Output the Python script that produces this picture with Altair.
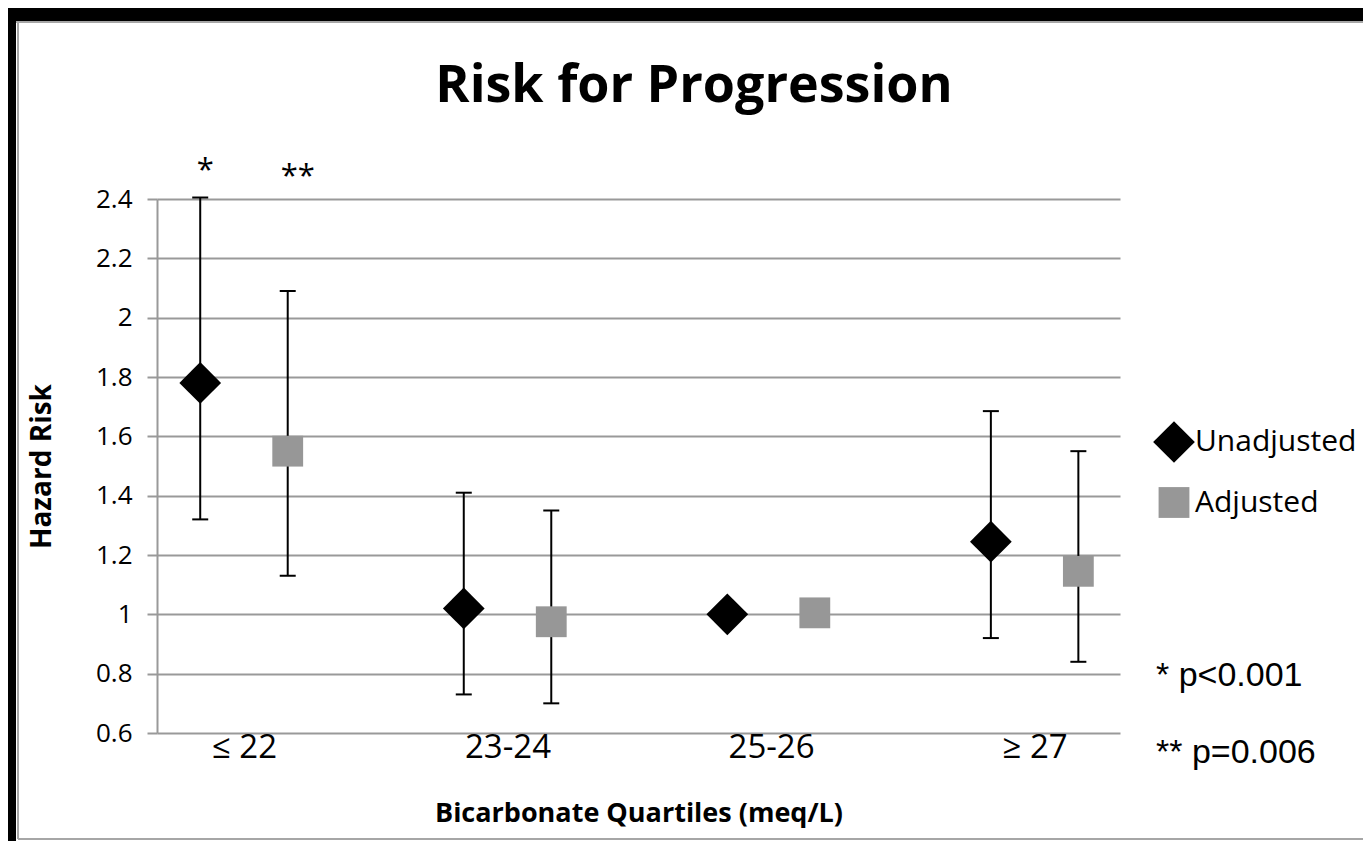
import json
import altair as alt
import pandas as pd

# ---------------- data ----------------
categories = ["≤ 22", "23-24", "25-26", "≥ 27"]
series_names = ["Unadjusted", "Adjusted"]
unadjusted_hr = [1.78, 1.02, 1.00, 1.245]
unadjusted_lo = [1.32, 0.73, None, 0.92]
unadjusted_hi = [2.405, 1.41, None, 1.685]
adjusted_hr = [1.55, 0.975, 1.005, 1.145]
adjusted_lo = [1.13, 0.70, None, 0.84]
adjusted_hi = [2.09, 1.35, None, 1.55]
y_ticks = [0.6, 0.8, 1.0, 1.2, 1.4, 1.6, 1.8, 2.0, 2.2, 2.4]
sig_marks = ["*", "**"]           # significance marks over the first category
p_notes = ["* p<0.001", "** p=0.006"]
chart_title = "Risk for Progression"
x_title = "Bicarbonate Quartiles (meq/L)"
y_title = "Hazard Risk"

# ---------------- table ----------------
series_shift = {"Unadjusted": -0.166, "Adjusted": 0.166}
rows = []
for i, cat in enumerate(categories):
    for name, hr, lo, hi in (
        ("Unadjusted", unadjusted_hr[i], unadjusted_lo[i], unadjusted_hi[i]),
        ("Adjusted", adjusted_hr[i], adjusted_lo[i], adjusted_hi[i]),
    ):
        rows.append(dict(category=cat, idx=i, series=name,
                         pos=i + series_shift[name], hr=hr, lo=lo, hi=hi))
df = pd.DataFrame(rows)
df_err = df.dropna(subset=["lo", "hi"])
df_sig = df[df["idx"] == 0].copy()
df_sig["mark"] = sig_marks

W, H = 963, 534
FONT = "Open Sans"
GRAY = "#999999"

x_scale = alt.Scale(domain=[-0.330, 3.324], nice=False, zero=False)
y_scale = alt.Scale(domain=[0.6, 2.4], nice=False, zero=False)

label_expr = json.dumps(categories) + "[datum.value]"
x_axis = alt.Axis(values=list(range(len(categories))), labelExpr=label_expr,
                  domain=False, ticks=False, grid=False,
                  labelFont=FONT, labelFontSize=33, labelColor="black",
                  labelPadding=-2, title=x_title, titleFont=FONT,
                  titleFontSize=27, titleFontWeight="bold", titleColor="black",
                  titleX=W / 2, titleY=80, titleAlign="center",
                  titleBaseline="middle", titleAngle=0)
y_axis = alt.Axis(values=y_ticks, format=".1~f", domain=True,
                  domainColor=GRAY, domainWidth=2, ticks=True, tickSize=10,
                  tickColor=GRAY, tickWidth=2, grid=True, gridColor=GRAY,
                  gridWidth=2, labelFont=FONT, labelFontSize=26,
                  labelColor="black", labelPadding=15, title=y_title,
                  titleFont=FONT, titleFontSize=28, titleFontWeight="bold",
                  titleColor="black", titleX=-115, titleY=H / 2,
                  titleAngle=270, titleAlign="center", titleBaseline="middle")

legend = alt.Legend(title=None, orient="none", legendX=996, legendY=222,
                    symbolSize=576, symbolStrokeWidth=0, labelFont=FONT,
                    labelFontSize=30, labelColor="black", labelOffset=0,
                    labelLimit=0, rowPadding=24, symbolOpacity=1)

base = alt.Chart(df)

points = base.mark_point(filled=True, opacity=1, strokeWidth=0).encode(
    x=alt.X("pos:Q", scale=x_scale, axis=x_axis, title=x_title),
    y=alt.Y("hr:Q", scale=y_scale, axis=y_axis, title=y_title),
    shape=alt.Shape("series:N",
                    scale=alt.Scale(domain=series_names, range=["diamond", "square"]),
                    legend=legend),
    color=alt.Color("series:N",
                    scale=alt.Scale(domain=series_names, range=["black", "#979797"]),
                    legend=legend),
    size=alt.Size("series:N",
                  scale=alt.Scale(domain=series_names, range=[1740, 950]),
                  legend=None),
)

err_rule = alt.Chart(df_err).mark_rule(color="black", strokeWidth=2).encode(
    x=alt.X("pos:Q", scale=x_scale, title=x_title),
    y=alt.Y("lo:Q", scale=y_scale, title=y_title),
    y2="hi:Q",
)
cap_lo = alt.Chart(df_err).mark_tick(color="black", orient="horizontal",
                                     size=16, thickness=2, opacity=1).encode(
    x=alt.X("pos:Q", scale=x_scale, title=x_title),
    y=alt.Y("lo:Q", scale=y_scale, title=y_title),
)
cap_hi = alt.Chart(df_err).mark_tick(color="black", orient="horizontal",
                                     size=16, thickness=2, opacity=1).encode(
    x=alt.X("pos:Q", scale=x_scale, title=x_title),
    y=alt.Y("hi:Q", scale=y_scale, title=y_title),
)

sig1 = alt.Chart(df_sig[df_sig["series"] == "Unadjusted"]).mark_text(
    font=FONT, fontSize=31, color="black", align="center",
    baseline="alphabetic", dx=5).encode(
    x=alt.X("pos:Q", scale=x_scale, title=x_title),
    y=alt.value(-19), text="mark:N")
sig2 = alt.Chart(df_sig[df_sig["series"] == "Adjusted"]).mark_text(
    font=FONT, fontSize=31, color="black", align="center",
    baseline="alphabetic", dx=10).encode(
    x=alt.X("pos:Q", scale=x_scale, title=x_title),
    y=alt.value(-13), text="mark:N")

notes_df = pd.DataFrame({"note": p_notes, "k": [0, 1]})
note1 = alt.Chart(notes_df[notes_df["k"] == 0]).mark_text(
    font="Liberation Sans", fontSize=34, color="black", align="left",
    baseline="alphabetic").encode(x=alt.value(999), y=alt.value(487), text="note:N")
note2 = alt.Chart(notes_df[notes_df["k"] == 1]).mark_text(
    font="Liberation Sans", fontSize=34, color="black", align="left",
    baseline="alphabetic").encode(x=alt.value(999), y=alt.value(564), text="note:N")

title_df = pd.DataFrame({"t": [chart_title]})
title = alt.Chart(title_df).mark_text(
    font=FONT, fontSize=52, fontWeight="bold", color="black", align="center",
    baseline="alphabetic").encode(x=alt.value(537), y=alt.value(-97), text="t:N")

one = pd.DataFrame({"a": [0]})
frame_top = alt.Chart(one).mark_rule(color="black", strokeWidth=13).encode(
    x=alt.value(-149), x2=alt.value(1206), y=alt.value(-184.5))
frame_left = alt.Chart(one).mark_rule(color="black", strokeWidth=8).encode(
    x=alt.value(-145), y=alt.value(-191), y2=alt.value(642))
line_top = alt.Chart(one).mark_rule(color="#a6a6a6", strokeWidth=2).encode(
    x=alt.value(-141), x2=alt.value(1206), y=alt.value(-177))
line_left = alt.Chart(one).mark_rule(color="#a6a6a6", strokeWidth=2).encode(
    x=alt.value(-139), y=alt.value(-177), y2=alt.value(640))
line_bottom = alt.Chart(one).mark_rule(color="#a6a6a6", strokeWidth=2).encode(
    x=alt.value(-139), x2=alt.value(1206), y=alt.value(640))

chart = alt.layer(
    err_rule, cap_lo, cap_hi, points, sig1, sig2, note1, note2, title,
    frame_top, frame_left, line_top, line_left, line_bottom,
).properties(
    width=W, height=H,
    autosize=alt.AutoSizeParams(type="none"),
    padding={"left": 149, "top": 191, "right": 243, "bottom": 108},
    background="white",
).configure_view(stroke=None)

chart.save("out.html", embed_options={"renderer": "svg", "actions": False})
